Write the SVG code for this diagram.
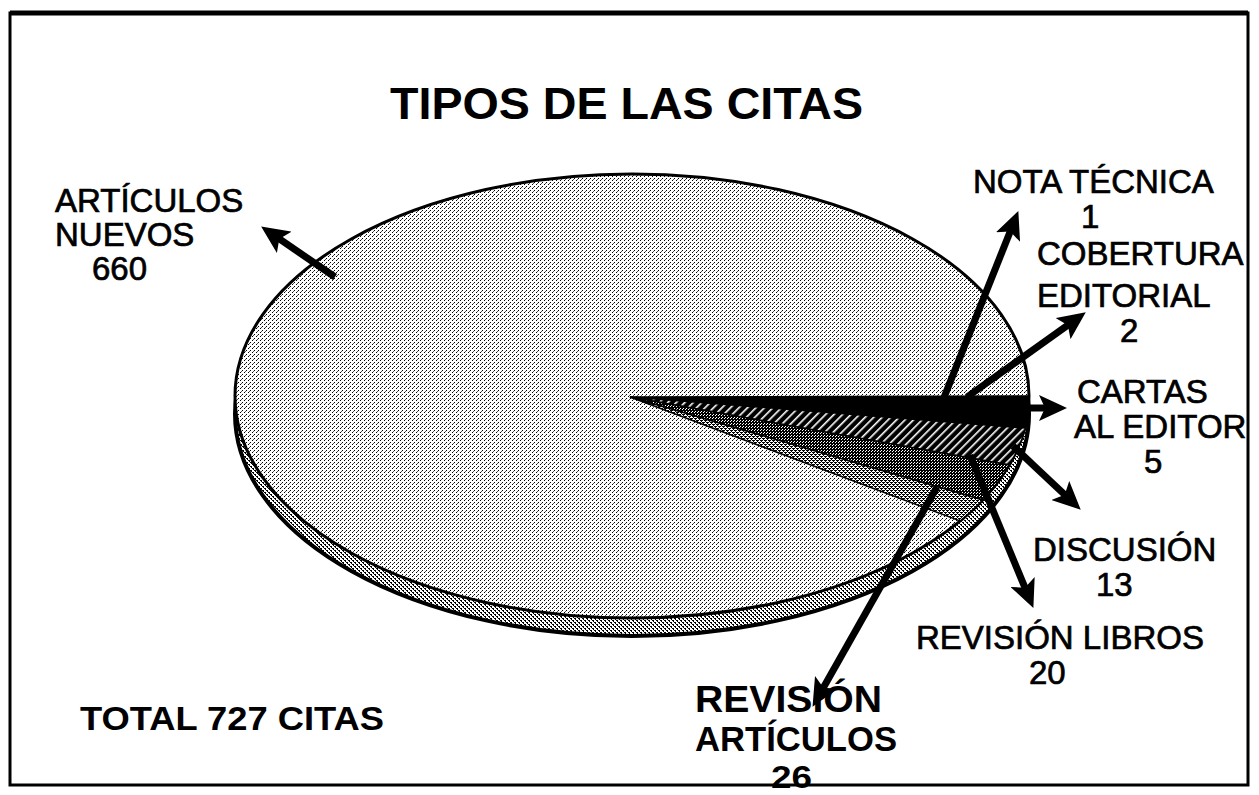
<svg xmlns="http://www.w3.org/2000/svg" width="1259" height="795" viewBox="0 0 1259 795">
<style>
text{font-family:"Liberation Sans",Arial,sans-serif;fill:#000}
.lbl{font-size:33px;stroke:#000;stroke-width:0.7}
.bld{font-weight:bold}
.arrow{stroke:#000;stroke-width:7;fill:none;marker-end:url(#head)}
.edge{stroke:#000;stroke-width:1.5}
</style>
<defs>
<pattern id="light" width="4" height="4" patternUnits="userSpaceOnUse">
<rect width="4" height="4" fill="#fff"/>
<rect x="0" y="0" width="1" height="1" fill="#000"/>
<rect x="2" y="2" width="1" height="1" fill="#000"/>
<rect x="1" y="3" width="1" height="1" fill="#555"/>
</pattern>
<pattern id="band" width="4" height="4" patternUnits="userSpaceOnUse">
<rect width="4" height="4" fill="#fff"/>
<rect x="0" y="0" width="2" height="1" fill="#000"/>
<rect x="2" y="2" width="2" height="1" fill="#000"/>
<rect x="1" y="1" width="1" height="1" fill="#000"/>
<rect x="3" y="3" width="1" height="1" fill="#000"/>
</pattern>
<pattern id="hatch" width="6" height="6" patternUnits="userSpaceOnUse" patternTransform="rotate(45)">
<rect width="6" height="6" fill="#000"/>
<rect x="0" y="0" width="1.6" height="6" fill="#fff"/>
</pattern>
<pattern id="dark" width="3" height="3" patternUnits="userSpaceOnUse">
<rect width="3" height="3" fill="#000"/>
<rect x="1" y="1" width="1" height="1" fill="#fff"/>
<rect x="2" y="0" width="1" height="1" fill="#fff"/>
</pattern>
<pattern id="medium" width="4" height="4" patternUnits="userSpaceOnUse">
<rect width="4" height="4" fill="#fff"/>
<rect x="0" y="0" width="2" height="1" fill="#000"/>
<rect x="2" y="2" width="2" height="1" fill="#000"/>
<rect x="1" y="1" width="1" height="1" fill="#000"/>
<rect x="3" y="3" width="1" height="1" fill="#000"/>
<rect x="0" y="2" width="1" height="1" fill="#000"/>
<rect x="2" y="0" width="1" height="1" fill="#000"/>
</pattern>
<marker id="head" markerUnits="userSpaceOnUse" viewBox="0 0 28 26" markerWidth="28" markerHeight="26" refX="9" refY="13" orient="auto">
<path d="M0,0 L28,13 L0,26 L6,13 Z" fill="#000"/>
</marker>
</defs>

<rect id="frame" x="10" y="13" width="1238" height="772" fill="none" stroke="#000" stroke-width="3"/>
<line x1="10" y1="13" x2="1248" y2="13" stroke="#000" stroke-width="5"/>

<g id="title"><text class="bld" x="390" y="119" font-size="44" textLength="473" lengthAdjust="spacingAndGlyphs">TIPOS DE LAS CITAS</text></g>

<g id="pie">
<ellipse cx="632" cy="414" rx="397" ry="222" fill="url(#band)" stroke="#000" stroke-width="4"/>
<ellipse id="slice-nuevos" cx="632" cy="396" rx="397" ry="222" fill="url(#light)" stroke="#000" stroke-width="3"/>
<path id="slice-black" class="edge" d="M630,397 L1029,396 A397,222 0 0 1 1025.6,428 Z" fill="#000"/>
<path id="slice-hatch" class="edge" d="M630,397 L1025.6,428 A397,222 0 0 1 1009.3,465 Z" fill="url(#hatch)"/>
<path id="slice-dark" class="edge" d="M630,397 L1009.3,465 A397,222 0 0 1 982.7,500 Z" fill="url(#dark)"/>
<path id="slice-medium" class="edge" d="M630,397 L982.7,500 A397,222 0 0 1 960.1,521 Z" fill="url(#medium)"/>
</g>

<g id="connectors">
<line class="arrow" x1="335" y1="277" x2="276.8" y2="237.2"/>
<line class="arrow" x1="943" y1="400" x2="1011.3" y2="228.7"/>
<line class="arrow" x1="967" y1="397" x2="1070.3" y2="323.4"/>
<line class="arrow" x1="1026" y1="408" x2="1048" y2="408"/>
<line class="arrow" x1="1013" y1="446" x2="1066.9" y2="496.7"/>
<line class="arrow" x1="970" y1="455" x2="1026.1" y2="590.4"/>
<line class="arrow" x1="937" y1="487" x2="821.9" y2="690.3"/>
</g>

<g id="label-nuevos" class="lbl"><text x="55" y="212">ARTÍCULOS</text><text x="55" y="246">NUEVOS</text><text x="92" y="280">660</text></g>
<g id="label-nota" class="lbl"><text x="973" y="193">NOTA TÉCNICA</text><text x="1081" y="228">1</text></g>
<g id="label-cobertura" class="lbl"><text x="1037" y="265">COBERTURA</text><text x="1037" y="307">EDITORIAL</text><text x="1120" y="342">2</text></g>
<g id="label-cartas" class="lbl"><text x="1077" y="403">CARTAS</text><text x="1074" y="438">AL EDITOR</text><text x="1144" y="473">5</text></g>
<g id="label-discusion" class="lbl"><text x="1033" y="561">DISCUSIÓN</text><text x="1096" y="596">13</text></g>
<g id="label-libros" class="lbl"><text x="916" y="649">REVISIÓN LIBROS</text><text x="1029" y="684">20</text></g>
<g id="label-articulos"><text class="bld" x="695" y="712" font-size="36" textLength="187" lengthAdjust="spacingAndGlyphs">REVISIÓN</text><text class="bld" x="695" y="751" font-size="35" textLength="202" lengthAdjust="spacingAndGlyphs">ARTÍCULOS</text><text class="bld" x="771" y="788" font-size="32" textLength="41" lengthAdjust="spacingAndGlyphs">26</text></g>
<g id="label-total"><text class="bld" x="80" y="730" font-size="33" textLength="304" lengthAdjust="spacingAndGlyphs">TOTAL 727 CITAS</text></g>
</svg>
